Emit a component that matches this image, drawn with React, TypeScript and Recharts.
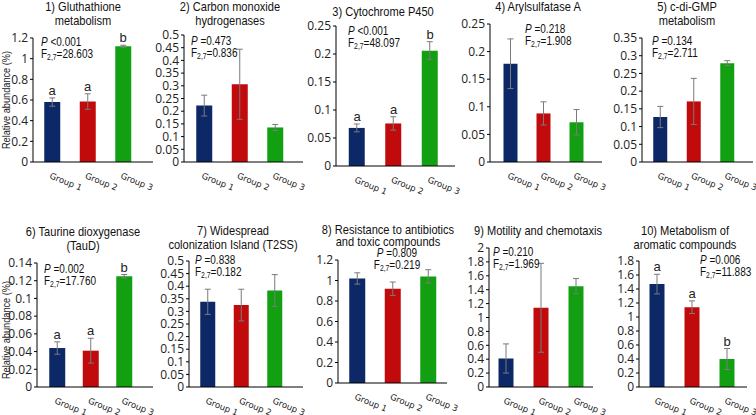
import React from 'react';
import {
  ComposedChart,
  Bar,
  Line,
  Cell,
  XAxis,
  YAxis,
  ErrorBar,
  LabelList,
} from 'recharts';

// group names on the x axis
const groups = ['Group 1', 'Group 2', 'Group 3'];
const COLORS = ['#0c2866', '#c00a0c', '#12a012'];

// 1) Gluthathione metabolism
const glutMean = [0.58, 0.585, 1.12];
const glutErr = [0.04, 0.075, 0.01];
const glutLetters = ['a', 'a', 'b'];
const glutTicks = [0, 0.2, 0.4, 0.6, 0.8, 1, 1.2];

// 2) Carbon monoxide hydrogenases
const coMean = [0.222, 0.306, 0.136];
const coErr = [0.041, 0.138, 0.012];
const coTicks = [0, 0.05, 0.1, 0.15, 0.2, 0.25, 0.3, 0.35, 0.4, 0.45, 0.5];

// 3) Cytochrome P450
const cypMean = [0.068, 0.076, 0.206];
const cypErr = [0.007, 0.012, 0.016];
const cypLetters = ['a', 'a', 'b'];
const cypTicks = [0, 0.05, 0.1, 0.15, 0.2, 0.25];

// 4) Arylsulfatase A
const arylMean = [0.178, 0.088, 0.072];
const arylErr = [0.045, 0.021, 0.023];
const arylTicks = [0, 0.05, 0.1, 0.15, 0.2, 0.25];

// 5) c-di-GMP metabolism
const gmpMean = [0.127, 0.171, 0.279];
const gmpErr = [0.03, 0.065, 0.007];
const gmpTicks = [0, 0.05, 0.1, 0.15, 0.2, 0.25, 0.3, 0.35];

// 6) Taurine dioxygenase
const tauMean = [0.044, 0.041, 0.125];
const tauErr = [0.007, 0.014, 0.002];
const tauLetters = ['a', 'a', 'b'];
const tauTicks = [0, 0.02, 0.04, 0.06, 0.08, 0.1, 0.12, 0.14];

// 7) Widespread colonization Island
const tadMean = [0.338, 0.325, 0.383];
const tadErr = [0.05, 0.063, 0.063];
const tadTicks = [0, 0.05, 0.1, 0.15, 0.2, 0.25, 0.3, 0.35, 0.4, 0.45, 0.5];

// 8) Resistance to antibiotics
const resMean = [1.02, 0.92, 1.04];
const resErr = [0.055, 0.065, 0.065];
const resTicks = [0, 0.2, 0.4, 0.6, 0.8, 1, 1.2];

// 9) Motility and chemotaxis
const motMean = [0.41, 1.14, 1.45];
const motErr = [0.21, 0.64, 0.11];
const motTicks = [0, 0.2, 0.4, 0.6, 0.8, 1, 1.2, 1.4, 1.6, 1.8, 2];

// 10) Metabolism of aromatic compounds
const aroMean = [1.47, 1.14, 0.4];
const aroErr = [0.14, 0.09, 0.15];
const aroLetters = ['a', 'a', 'b'];
const aroTicks = [0, 0.2, 0.4, 0.6, 0.8, 1, 1.2, 1.4, 1.6, 1.8];

const panels = [
  { title: ['1) Gluthathione', 'metabolism'], mean: glutMean, err: glutErr, letters: glutLetters, ticks: glutTicks, p: '<0.001', f: '28.603' },
  { title: ['2) Carbon monoxide', 'hydrogenases'], mean: coMean, err: coErr, ticks: coTicks, p: '=0.473', f: '0.836' },
  { title: ['3) Cytochrome P450'], mean: cypMean, err: cypErr, letters: cypLetters, ticks: cypTicks, p: '<0.001', f: '48.097' },
  { title: ['4) Arylsulfatase A'], mean: arylMean, err: arylErr, ticks: arylTicks, p: '=0.218', f: '1.908' },
  { title: ['5) c-di-GMP', 'metabolism'], mean: gmpMean, err: gmpErr, ticks: gmpTicks, p: '=0.134', f: '2.711' },
  { title: ['6) Taurine dioxygenase', '(TauD)'], mean: tauMean, err: tauErr, letters: tauLetters, ticks: tauTicks, p: '=0.002', f: '17.760' },
  { title: ['7) Widespread', 'colonization Island (T2SS)'], mean: tadMean, err: tadErr, ticks: tadTicks, p: '=0.838', f: '0.182' },
  { title: ['8) Resistance to antibiotics', 'and toxic compounds'], mean: resMean, err: resErr, ticks: resTicks, p: '=0.809', f: '0.219' },
  { title: ['9) Motility and chemotaxis'], mean: motMean, err: motErr, ticks: motTicks, p: '=0.210', f: '1.969' },
  { title: ['10) Metabolism of', 'aromatic compounds'], mean: aroMean, err: aroErr, letters: aroLetters, ticks: aroTicks, p: '=0.006', f: '11.883' },
];

// pixel placement of each panel on the page
const layout = [
  { axisX: 33, yTop: 38, yZero: 162, axisEnd: 153, c1: 52, c3: 123, bar: 16, tx: 83, ty: 7, ax: 41, ay: 43 },
  { axisX: 184, yTop: 35, yZero: 162, axisEnd: 303, c1: 204, c3: 275, bar: 16, tx: 230, ty: 7, ax: 191, ay: 42 },
  { axisX: 336, yTop: 26, yZero: 166, axisEnd: 455, c1: 357, c3: 430, bar: 16, tx: 383, ty: 12, ax: 348, ay: 32 },
  { axisX: 490, yTop: 24, yZero: 162, axisEnd: 602, c1: 510, c3: 576, bar: 14, tx: 538, ty: 7, ax: 525, ay: 30 },
  { axisX: 642, yTop: 38, yZero: 162, axisEnd: 753, c1: 660, c3: 727, bar: 14, tx: 687, ty: 7, ax: 652, ay: 42 },
  { axisX: 37, yTop: 263, yZero: 387, axisEnd: 153, c1: 57, c3: 124, bar: 16, tx: 83, ty: 232, ax: 44, ay: 270 },
  { axisX: 189, yTop: 261, yZero: 387, axisEnd: 303, c1: 208, c3: 275, bar: 15, tx: 233, ty: 231, ax: 195, ay: 261 },
  { axisX: 338, yTop: 260, yZero: 383, axisEnd: 447, c1: 357, c3: 428, bar: 16, tx: 388, ty: 231, lh: 12, ax: 397, ay: 254, center: true },
  { axisX: 489, yTop: 248, yZero: 387, axisEnd: 593, c1: 506, c3: 576, bar: 15, tx: 538, ty: 231, ax: 493, ay: 253 },
  { axisX: 639, yTop: 261, yZero: 387, axisEnd: 747, c1: 657, c3: 727, bar: 15, tx: 685, ty: 231, ax: 700, ay: 261 },
];

const SANS = "'Liberation Sans', Arial, sans-serif";
const YW = 40;
const MT = 8;
const XH = 30;
const MR = 4;

const GroupTick = ({ x, y, payload }: any) => (
  <text
    x={x - 3}
    y={y + 8}
    transform={`rotate(22, ${x - 3}, ${y + 8})`}
    fontSize={8.5}
    fontFamily="'DejaVu Sans', sans-serif"
    fill="#222"
    textAnchor="start"
  >
    {payload.value}
  </text>
);

const Panel = ({ cfg, lay }: any) => {
  const data = groups.map((g, i) => ({
    group: g,
    mean: cfg.mean[i],
    err: cfg.err[i],
    top: cfg.mean[i] + cfg.err[i],
    letter: cfg.letters ? cfg.letters[i] : '',
  }));
  const bw = (lay.c3 - lay.c1) / 2;
  const padL = lay.c1 - bw / 2 - lay.axisX;
  const padR = lay.axisEnd - (lay.c3 + bw / 2);
  const width = YW + (lay.axisEnd - lay.axisX) + MR;
  const height = MT + (lay.yZero - lay.yTop) + XH;
  const max = cfg.ticks[cfg.ticks.length - 1];
  return (
    <div style={{ position: 'absolute', left: lay.axisX - YW, top: lay.yTop - MT }}>
      <ComposedChart width={width} height={height} data={data} margin={{ top: MT, right: MR, left: 0, bottom: 0 }}>
        <XAxis
          dataKey="group"
          height={XH}
          tickLine={false}
          axisLine={{ stroke: '#000' }}
          padding={{ left: padL, right: padR }}
          tick={<GroupTick />}
          interval={0}
        />
        <YAxis
          width={YW}
          domain={[0, max]}
          ticks={cfg.ticks}
          interval={0}
          tickSize={3}
          axisLine={{ stroke: '#000' }}
          tickLine={{ stroke: '#000' }}
          tick={{ fontSize: 12, fill: '#222', fontFamily: 'Open Sans, sans-serif' }}
        />
        <Bar dataKey="mean" barSize={lay.bar} isAnimationActive={false}>
          {data.map((d, i) => (
            <Cell key={d.group} fill={COLORS[i]} />
          ))}
          <ErrorBar dataKey="err" width={3} stroke="#7a7a7a" strokeWidth={1} />
        </Bar>
        {cfg.letters && (
          <Line dataKey="top" stroke="none" dot={false} activeDot={false} isAnimationActive={false}>
            <LabelList dataKey="letter" position="top" offset={3} fontSize={13} fill="#222" fontFamily={SANS} />
          </Line>
        )}
      </ComposedChart>
    </div>
  );
};

const Title = ({ lines, cx, cy, lh = 13.5 }: any) => (
  <div
    style={{
      position: 'absolute',
      left: cx - 100,
      top: cy - 7,
      width: 200,
      textAlign: 'center',
      fontFamily: SANS,
      fontSize: 13.5,
      lineHeight: `${lh}px`,
      color: '#111',
      whiteSpace: 'nowrap',
      transform: 'scaleX(0.82)',
      transformOrigin: 'center',
    }}
  >
    {lines.map((l: string) => (
      <div key={l}>{l}</div>
    ))}
  </div>
);

const Stats = ({ p, f, x, y, center }: any) => (
  <div
    style={{
      position: 'absolute',
      left: center ? x - 60 : x,
      top: y - 7,
      width: center ? 120 : undefined,
      textAlign: center ? 'center' : 'left',
      fontFamily: SANS,
      fontSize: 12.5,
      lineHeight: '12px',
      color: '#111',
      whiteSpace: 'nowrap',
      transform: 'scaleX(0.8)',
      transformOrigin: center ? 'center' : 'left center',
    }}
  >
    <div>
      <i>P</i> {p}
    </div>
    <div>
      F<sub style={{ fontSize: 8.5, verticalAlign: -2 }}>2,7</sub>={f}
    </div>
  </div>
);

const YLabel = ({ cy }: any) => (
  <div
    style={{
      position: 'absolute',
      left: 7 - 70,
      top: cy - 6,
      width: 140,
      textAlign: 'center',
      transform: 'rotate(-90deg) scaleX(0.92)',
      fontFamily: SANS,
      fontSize: 10,
      lineHeight: '12px',
      color: '#222',
      whiteSpace: 'nowrap',
    }}
  >
    Relative abundance (%)
  </div>
);

export default function App() {
  return (
    <div style={{ position: 'absolute', left: 0, top: 0, width: 756, height: 415, background: '#fff', overflow: 'hidden' }}>
      <style>{'.recharts-surface { overflow: visible; }'}</style>
      {panels.map((cfg, i) => {
        const lay = layout[i];
        return (
          <React.Fragment key={i}>
            <Panel cfg={cfg} lay={lay} />
            <Title lines={cfg.title} cx={lay.tx} cy={lay.ty} lh={lay.lh} />
            <Stats p={cfg.p} f={cfg.f} x={lay.ax} y={lay.ay} center={lay.center} />
          </React.Fragment>
        );
      })}
      <YLabel cy={100} />
      <YLabel cy={330} />
    </div>
  );
}
